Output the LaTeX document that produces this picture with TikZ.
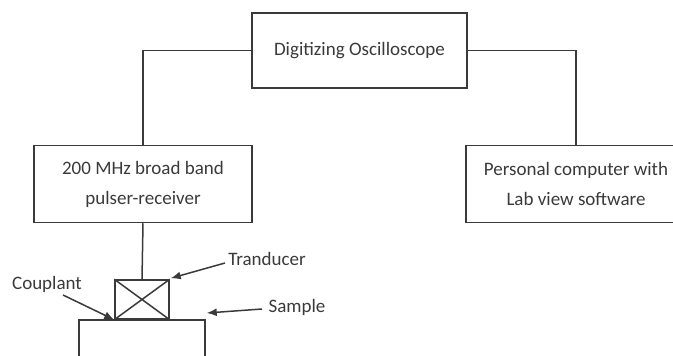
\documentclass[tikz,border=0pt]{standalone}
\usepackage{fontspec}
\setmainfont{Carlito}
\usetikzlibrary{arrows.meta}
\definecolor{ink}{HTML}{3A3A3A}
\tikzset{
  blk/.style={draw=ink, line width=1.5pt, inner sep=0pt, align=center, text=ink},
  wire/.style={draw=ink, line width=1.5pt},
  callout/.style={draw=ink, line width=1.5pt, -{Latex[length=10pt,width=8pt]}},
  lbl/.style={text=ink, inner sep=0pt}
}
\begin{document}
\begin{tikzpicture}[x=1pt,y=-1pt, every node/.style={font=\fontsize{19}{30}\selectfont}]
\useasboundingbox (0,0) rectangle (673,356);
% main blocks
\node[blk, minimum width=215pt, minimum height=75pt] (osc) at (359.5,50.5) {Digitizing Oscilloscope};
\node[blk, minimum width=218pt, minimum height=77pt] (pulser) at (143,184) {200 MHz broad band\\pulser-receiver};
\node[blk, minimum width=220pt, minimum height=77pt] (pc) at (576,184) {Personal computer with\\Lab view software};
% transducer on the sample
\node[blk, minimum width=54pt, minimum height=39pt] (trans) at (142,299.5) {};
\draw[wire] (trans.north west) -- (trans.south east) (trans.north east) -- (trans.south west);
\node[blk, minimum width=126pt, minimum height=60pt, anchor=north] (sample) at (142,319) {};
% connections
\draw[wire] (osc.west) -| (pulser.north);
\draw[wire] (osc.east) -| (pc.north);
\draw[wire] (pulser.south) -- (trans.north);
% callouts
\node[lbl] (coup) at (47,284) {Couplant};
\node[lbl] (tdl) at (267,259) {Tranducer};
\node[lbl] (sml) at (297,307) {Sample};
\coordinate (coupA) at (63,295);
\coordinate (tdA) at (225,263);
\coordinate (smA) at (262,309);
\draw[callout] (coupA) -- (trans.south west);
\draw[callout] (tdA) -- ([xshift=1pt,yshift=1pt]trans.north east);
\draw[callout] (smA) -- ([xshift=1pt,yshift=6pt]sample.north east);
\end{tikzpicture}
\end{document}
